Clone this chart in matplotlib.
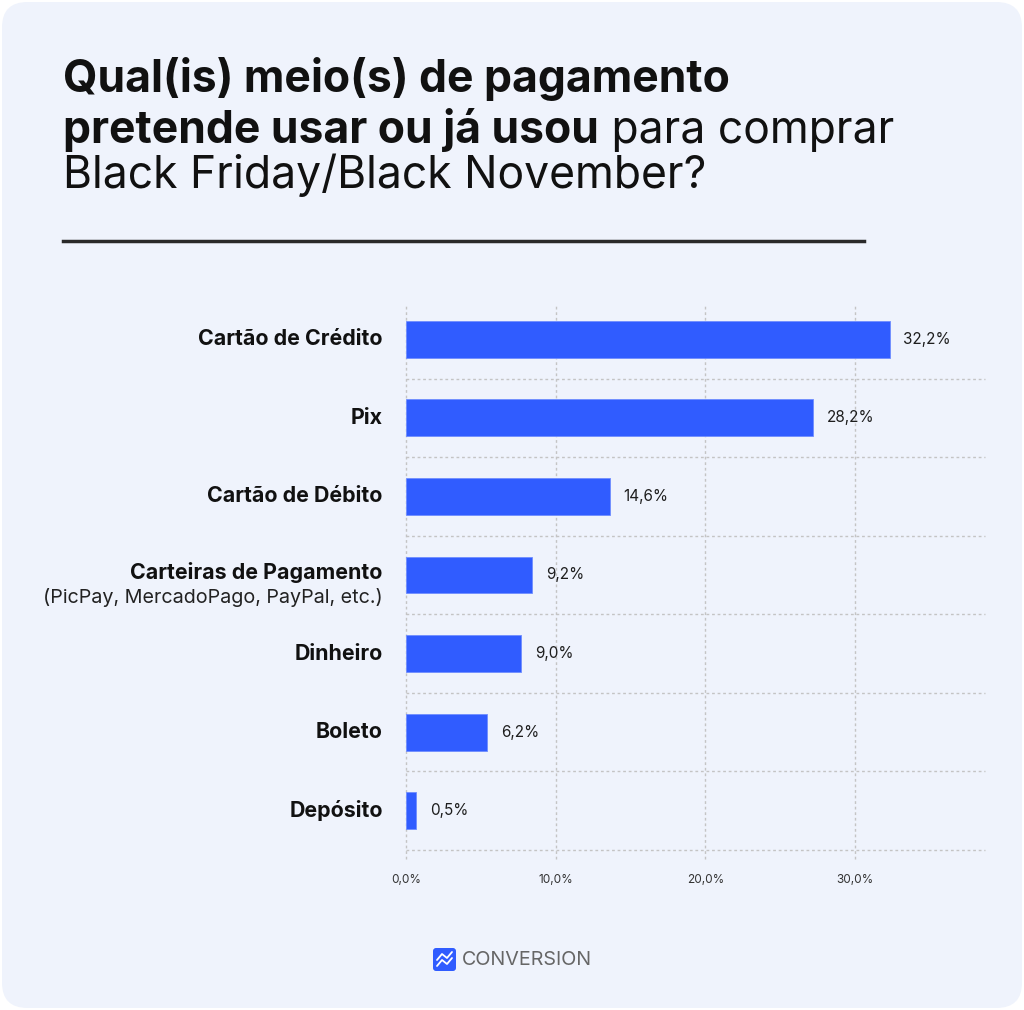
import matplotlib
matplotlib.use("Agg")
import matplotlib.pyplot as plt
from matplotlib.patches import FancyBboxPatch
from matplotlib.lines import Line2D
from matplotlib.text import Annotation

plt.rcParams["font.family"] = ["Inter", "DejaVu Sans"]

# data (bar lengths as drawn, labels as printed)
categories = [
    "Cartão de Crédito",
    "Pix",
    "Cartão de Débito",
    "Carteiras de Pagamento",
    "Dinheiro",
    "Boleto",
    "Depósito",
]
bar_values = [32.3, 27.2, 13.6, 8.4, 7.7, 5.4, 0.7]
value_labels = ["32,2%", "28,2%", "14,6%", "9,2%", "9,0%", "6,2%", "0,5%"]
sub_labels = {3: "(PicPay, MercadoPago, PayPal, etc.)"}
x_ticks = [0, 10, 20, 30]
x_tick_labels = ["0,0%", "10,0%", "20,0%", "30,0%"]

BG = "#EFF3FC"
BAR = "#305CFF"
GRID = "#C4C4C4"
W, H = 1024, 1010
TITLE_FS = 32

fig = plt.figure(figsize=(W / 100, H / 100), dpi=100, facecolor="white")
fig.patches.append(FancyBboxPatch(
    (2 / W, 2 / H), 1 - 4 / W, 1 - 4 / H,
    boxstyle="round,pad=0,rounding_size=0.025",
    transform=fig.transFigure, facecolor=BG, edgecolor="none", zorder=-10,
))

# title
fig.text(63 / W, 1 - 92 / H, "Qual(is) meio(s) de pagamento",
         fontsize=TITLE_FS, fontweight="bold", color="#111111", va="baseline")
t2 = fig.text(63 / W, 1 - 143 / H, "pretende usar ou já usou",
              fontsize=TITLE_FS, fontweight="bold", color="#111111",
              va="baseline")
fig.add_artist(Annotation(" para comprar", xy=(1, 0), xycoords=t2,
                          va="bottom", ha="left", fontsize=TITLE_FS,
                          color="#111111", annotation_clip=False))
fig.text(63 / W, 1 - 188 / H, "Black Friday/Black November?",
         fontsize=TITLE_FS, color="#111111", va="baseline")

fig.lines.append(Line2D([63 / W, 864 / W], [1 - 241 / H, 1 - 241 / H],
                        transform=fig.transFigure, color="#2a2a2a", lw=2.5))

# chart
x_max = (985 - 406) / 14.97
ax = fig.add_axes([406 / W, 1 - 850 / H, (985 - 406) / W, 550 / H])
ax.set_facecolor("none")
ypos = list(range(len(categories)))
ax.barh(ypos, bar_values, height=0.47, color=BAR, edgecolor="#6f8dff",
        linewidth=0.6, zorder=3)
ax.set_xlim(0, x_max)
ax.set_ylim(len(categories) - 0.5, -0.5)

for b in [i + 0.5 for i in ypos]:
    ax.plot([0, x_max], [b, b], color=GRID, lw=1, ls=(0, (2, 2)),
            clip_on=False, zorder=1)
for t in x_ticks:
    ax.plot([t, t], [len(categories) - 0.38, -0.43], color=GRID, lw=1,
            ls=(0, (2, 2)), clip_on=False, zorder=1)

for y, v, lab in zip(ypos, bar_values, value_labels):
    ax.annotate(lab, xy=(v, y), xytext=(10, 0), textcoords="offset points",
                va="center", ha="left", fontsize=11, color="#1e1e1e")

ytr = ax.get_yaxis_transform()
for y, cat in zip(ypos, categories):
    if y in sub_labels:
        ax.text(-0.04, y - 0.03, cat, transform=ytr, ha="right",
                va="center", fontsize=15.4, fontweight="bold",
                color="#111111")
        ax.text(-0.04, y + 0.17, sub_labels[y], transform=ytr, ha="right",
                va="top", fontsize=14.2, color="#222222")
    else:
        ax.text(-0.04, y, cat, transform=ytr, ha="right", va="center",
                fontsize=15.4, fontweight="bold", color="#111111")

ax.set_xticks(x_ticks)
ax.set_xticklabels(x_tick_labels, fontsize=8.5, color="#333333")
ax.tick_params(axis="x", length=0, pad=17)
ax.set_yticks([])
for s in ax.spines.values():
    s.set_visible(False)

# footer logo
lx, ly, ls_ = 433 / W, 1 - 971 / H, 23
fig.patches.append(FancyBboxPatch(
    (lx, ly), ls_ / W, ls_ / H,
    boxstyle="round,pad=0,rounding_size=0.003",
    transform=fig.transFigure, facecolor=BAR, edgecolor="none",
))
for dy in (0, 6):
    xs = [437, 442, 447, 452]
    ys = [961 + dy, 955 + dy, 959 + dy, 953 + dy]
    fig.lines.append(Line2D([x / W for x in xs], [1 - (y - 1) / H for y in ys],
                            transform=fig.transFigure, color="white", lw=1.3,
                            solid_capstyle="round", solid_joinstyle="round"))
fig.text(462 / W, 1 - 960 / H, "CONVERSION", fontsize=14.2, color="#666666",
         va="center", ha="left")

fig.savefig("out.png", dpi=100, facecolor="white")
